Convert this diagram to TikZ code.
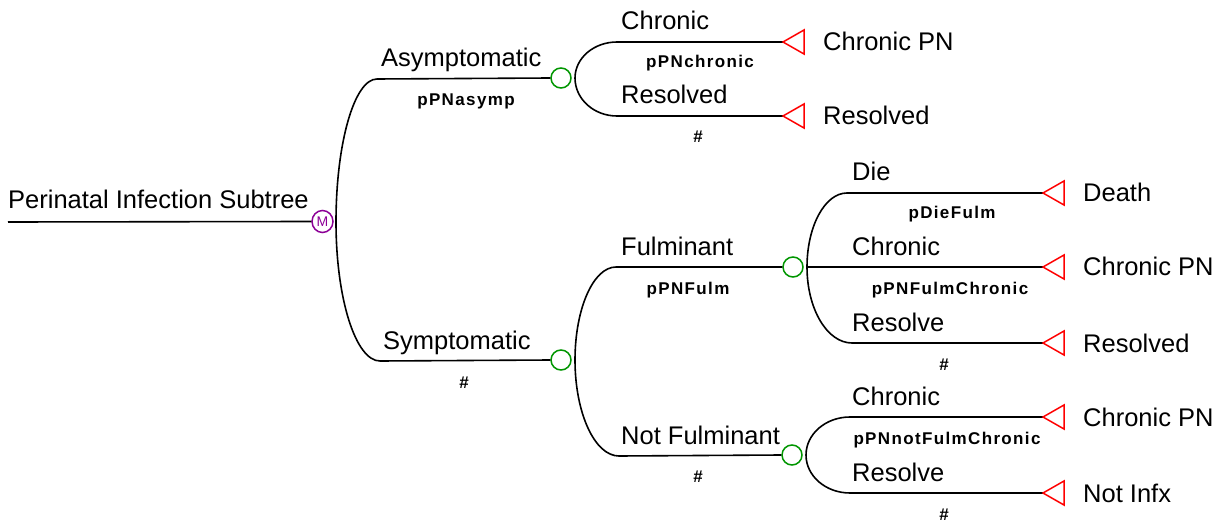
\documentclass[tikz,border=0pt]{standalone}
\usepackage{fontspec}
\setmainfont{Liberation Sans}
\newfontfamily\probfont[LetterSpace=8]{Liberation Sans}
\usetikzlibrary{calc,shapes.geometric}

\definecolor{chancegreen}{RGB}{0,150,0}
\definecolor{markovpurple}{RGB}{140,0,150}
\definecolor{termred}{RGB}{255,0,0}

\tikzset{
  branch/.style={line width=1.6pt, black},
  lab/.style={anchor=base west, inner sep=0pt, font=\fontsize{25.5}{30}\selectfont},
  prob/.style={anchor=base, inner sep=0pt, font=\fontsize{17}{20}\probfont\bfseries},
  termlab/.style={anchor=base west, inner sep=0pt, font=\fontsize{25.5}{30}\selectfont},
  chance/.style={circle, draw=chancegreen, line width=1.5pt, minimum size=20pt, inner sep=0pt},
  markov/.style={ellipse, draw=markovpurple, line width=1.5pt, minimum width=21pt, minimum height=22pt, inner sep=0pt,
                 text=markovpurple, font=\fontsize{14}{14}\selectfont},
  term/.style={draw=termred, line width=1.5pt, line join=miter}
}
% quarter-ellipse link: vertical tangent at #1, horizontal tangent at #2
\newcommand\qlink[2]{(#1) .. controls ($(#1)!0.552!(#1 |- #2)$) and ($(#2)!0.552!(#1 |- #2)$) .. (#2)}

\begin{document}
\begin{tikzpicture}[x=1pt, y=-1pt]
\useasboundingbox (0,0) rectangle (1225,529);

% ---- root and Markov node ----
\node[lab] (tRoot) at (8,209) {Perinatal Infection Subtree};
\coordinate (r0) at (8,222);
\node[markov] (M) at (322.5,221.5) {M};
\draw[branch] (r0) -- (M.west);
\coordinate (mv) at (336,222);

% ---- chance nodes ----
\node[chance] (c1) at (561,78) {};
\node[chance] (c2) at (561,360) {};
\node[chance] (c3) at (793,267) {};
\node[chance] (c4) at (792,455) {};
\coordinate (v1) at (575,78);
\coordinate (v2) at (575,360);
\coordinate (v3) at (807,267);
\coordinate (v4) at (806,455);

% ---- branch starts ----
\coordinate (a1) at (377,79);
\coordinate (a2) at (380,361);
\coordinate (b1) at (617,42);
\coordinate (b2) at (617,116);
\coordinate (b3) at (616,267);
\coordinate (b4) at (619,456);
\coordinate (d1) at (847,193);
\coordinate (d3) at (852,343);
\coordinate (d4) at (850,417);
\coordinate (d5) at (850,493);

% ---- terminal tips ----
\coordinate (t1) at (783,42);
\coordinate (t2) at (783,116);
\coordinate (t3) at (1043,193);
\coordinate (t4) at (1043,267);
\coordinate (t5) at (1043,343);
\coordinate (t6) at (1043,417);
\coordinate (t7) at (1043,493);

% ---- connectors from the Markov node ----
\draw[branch] \qlink{mv}{a1} -- (c1.west);
\draw[branch] \qlink{mv}{a2} -- (c2.west);

% ---- connectors from chance nodes ----
\draw[branch] \qlink{v1}{b1} -- (t1);
\draw[branch] \qlink{v1}{b2} -- (t2);
\draw[branch] \qlink{v2}{b3} -- (c3.west);
\draw[branch] \qlink{v2}{b4} -- (c4.west);
\draw[branch] \qlink{v3}{d1} -- (t3);
\draw[branch] (v3) -- (t4);
\draw[branch] \qlink{v3}{d3} -- (t5);
\draw[branch] \qlink{v4}{d4} -- (t6);
\draw[branch] \qlink{v4}{d5} -- (t7);

% ---- terminal triangles ----
\foreach \t in {t1,t2,t3,t4,t5,t6,t7}
  \draw[term] (\t) -- ++(21,-12) -- ++(0,24) -- cycle;

% ---- branch labels ----
\node[lab] (lA) at (381,67) {Asymptomatic};
\node[prob] (pA) at (466,106) {pPNasymp};
\node[lab] (lS) at (383,349) {Symptomatic};
\node[prob] (pS) at (464,388) {\#};

\node[lab] (lC1) at (621,30) {Chronic};
\node[prob] (pC1) at (700,68) {pPNchronic};
\node[lab] (lR1) at (621,104) {Resolved};
\node[prob] (pR1) at (698,143) {\#};

\node[lab] (lF) at (621,255) {Fulminant};
\node[prob] (pF) at (688,294) {pPNFulm};
\node[lab] (lNF) at (621,444) {Not Fulminant};
\node[prob] (pNF) at (698,482) {\#};

\node[lab] (lD) at (852,181) {Die};
\node[prob] (pD) at (952,219) {pDieFulm};
\node[lab] (lC2) at (852,255) {Chronic};
\node[prob] (pC2) at (950,294) {pPNFulmChronic};
\node[lab] (lR2) at (852,331) {Resolve};
\node[prob] (pR2) at (944,370) {\#};

\node[lab] (lC3) at (852,405) {Chronic};
\node[prob] (pC3) at (947,444) {pPNnotFulmChronic};
\node[lab] (lR3) at (852,481) {Resolve};
\node[prob] (pR3) at (944,520) {\#};

% ---- outcome labels ----
\node[termlab] (o1) at (823,51) {Chronic PN};
\node[termlab] (o2) at (823,125) {Resolved};
\node[termlab] (o3) at (1083,202) {Death};
\node[termlab] (o4) at (1083,276) {Chronic PN};
\node[termlab] (o5) at (1083,352) {Resolved};
\node[termlab] (o6) at (1083,426) {Chronic PN};
\node[termlab] (o7) at (1083,502) {Not Infx};
\end{tikzpicture}
\end{document}
